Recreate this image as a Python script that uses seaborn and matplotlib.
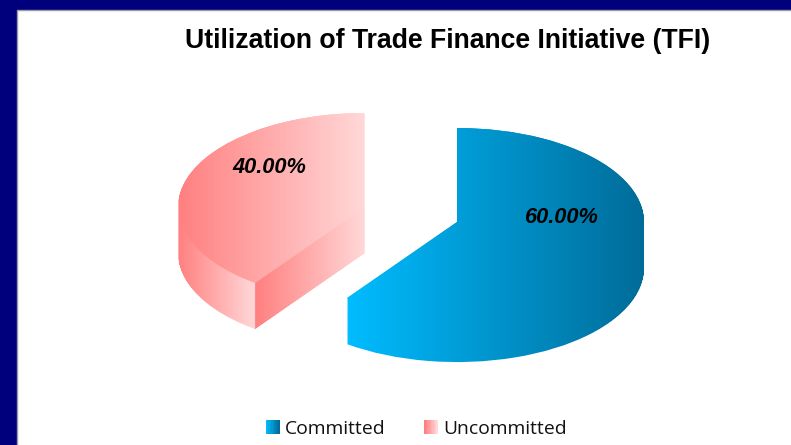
import numpy as np
import matplotlib
matplotlib.use('Agg')
import matplotlib.pyplot as plt
from matplotlib.legend_handler import HandlerBase
from matplotlib.patches import Patch, Rectangle
from matplotlib.path import Path
import seaborn as sns

labels = ['Committed', 'Uncommitted']
values = [60, 40]
explode = [0, 0.517]
title = 'Utilization of Trade Finance Initiative (TFI)'

W, H = 791, 445
blue_ramp = ['#00bcff', '#006c99']
pink_ramp = ['#ff8080', '#ffd8d8']

sns.set_theme(style='white')
plt.rcParams['font.family'] = ['Liberation Sans', 'DejaVu Sans']

fig = plt.figure(figsize=(W / 100, H / 100), dpi=100, facecolor='#00007c')
fig.patches.append(Rectangle((17 / W, -0.01), (W - 17 + 5) / W, (H - 10) / H + 0.01, transform=fig.transFigure,
                             facecolor='white', edgecolor='#9a9aa8', linewidth=1, zorder=-1))

ax = fig.add_axes([0, 0, 1, 1])
ax.patch.set_alpha(0)


def draw_pie(depth=0.0, **kw):
    wedges = ax.pie(values, explode=explode, startangle=90, counterclock=False, radius=1,
                    center=(0, -depth), **kw)
    for w in wedges[0]:
        w.set_visible(False)
    return wedges


def wedge_path(w):
    return w.get_path().transformed(w.get_patch_transform())


def gradient(path, stops, zorder):
    # horizontal ramp between data positions, clipped to the wedge shape
    xs = np.linspace(-2, 1, 900)
    col = np.ones((1, 900, 3))
    for a, b, ramp in stops:
        cmap = sns.blend_palette(ramp, as_cmap=True)
        m = (xs >= a) & (xs <= b)
        col[0, m] = cmap((xs[m] - a) / (b - a))[:, :3]
    im = ax.imshow(col, extent=(-2, 1, -2, 2), aspect='auto', zorder=zorder, interpolation='bilinear')
    im.set_clip_path(path, ax.transData)


# side walls: the same pie stacked downwards, merged into one outline per slice
stack = [draw_pie(depth=d)[0] for d in np.linspace(0, 0.49, 50)]
side_blue = Path.make_compound_path(*[wedge_path(s[0]) for s in stack])
side_pink = Path.make_compound_path(*[wedge_path(s[1]) for s in stack])

top = draw_pie(autopct='%.2f%%', pctdistance=0.54)
x_right = -explode[1] * np.cos(np.radians(18))
x_left = x_right - 1
x_apex = x_right - np.sin(np.radians(36))

gradient(side_blue, [(-0.59, 1.0, blue_ramp)], 2)
gradient(side_pink, [(x_left, x_apex, pink_ramp), (x_apex, x_right, pink_ramp)], 2)
gradient(wedge_path(top[0][0]), [(-0.59, 1.0, blue_ramp)], 3)
gradient(wedge_path(top[0][1]), [(x_left, x_right, pink_ramp)], 3)

# the labels sit a bit above and right of where the pie puts them
for t, dx, dy in zip(top[2], [0.045, 0.0], [0.22, 0.25]):
    x, y = t.get_position()
    t.set_position((x + dx, y + dy))
    t.set(fontsize=15.7, fontstyle='italic', fontweight='bold', color='black', zorder=5,
          ha='center', va='center')

ax.set_aspect('auto')
ax.set_xlim((0 - 457) / 187, (W - 457) / 187)
ax.set_ylim((222 - H) / 94, 222 / 94)
ax.set_xticks([])
ax.set_yticks([])
for s in ax.spines.values():
    s.set_visible(False)


class RampHandler(HandlerBase):
    def __init__(self, ramp):
        super().__init__()
        self.ramp = ramp

    def create_artists(self, legend, orig_handle, xdescent, ydescent, width, height, fontsize, trans):
        cols = sns.blend_palette(self.ramp, 10)
        return [Rectangle((i * width / 10, 0), width / 10 + 0.2, height, facecolor=c, linewidth=0, transform=trans)
                for i, c in enumerate(cols)]


handles = [Patch(label=labels[0]), Patch(label=labels[1])]
ax.legend(handles, labels, loc='center', bbox_to_anchor=(416.5 / W, 1 - 429 / H), ncol=2, frameon=False,
          handler_map={handles[0]: RampHandler(blue_ramp), handles[1]: RampHandler(pink_ramp)},
          prop={'family': 'Open Sans', 'size': 13.9}, handlelength=0.7, handleheight=0.7,
          handletextpad=0.3, columnspacing=2.0, labelcolor='#111111')

fig.text(448 / W, 1 - 41 / H, title, ha='center', va='center', fontsize=19.2, fontweight='bold', color='black')

fig.savefig('out.png', dpi=100, facecolor=fig.get_facecolor())
